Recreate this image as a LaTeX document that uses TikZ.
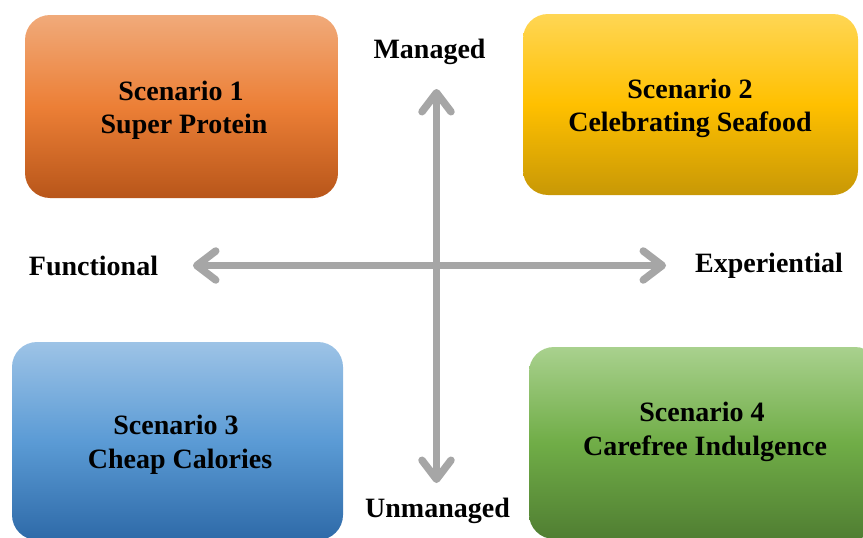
\documentclass[tikz,border=0pt]{standalone}
\usepackage{fontspec}
\setmainfont{Liberation Serif}
\usetikzlibrary{arrows.meta}

% gradient stops for the four scenario panels
\definecolor{orT}{RGB}{240,170,122}
\definecolor{orM}{RGB}{236,127,54}
\definecolor{orB}{RGB}{184,86,26}
\definecolor{yeT}{RGB}{255,214,84}
\definecolor{yeM}{RGB}{255,192,0}
\definecolor{yeB}{RGB}{200,152,6}
\definecolor{blT}{RGB}{157,195,230}
\definecolor{blM}{RGB}{91,155,213}
\definecolor{blB}{RGB}{46,106,168}
\definecolor{grT}{RGB}{169,209,142}
\definecolor{grM}{RGB}{112,173,71}
\definecolor{grB}{RGB}{80,126,50}
\definecolor{axisgray}{RGB}{166,166,166}

\begin{document}
\begin{tikzpicture}[x=1pt,y=-1pt,
  panel/.style={rectangle, rounded corners=25pt, inner sep=0pt, outer sep=0pt},
  txt/.style={anchor=base, inner sep=0pt, font=\fontsize{28}{33}\selectfont\bfseries},
  axisline/.style={draw=axisgray, line width=7.5pt,
    {Straight Barb[length=19pt, width=29pt, round]}-{Straight Barb[length=19pt, width=29pt, round]}}]
\useasboundingbox (0,0) rectangle (863,538);
\clip (0,0) rectangle (863,538);

% scenario panels
\node[panel, minimum width=313pt, minimum height=183pt,
  top color=orT, bottom color=orB, middle color=orM] (p1) at (181.5,106.5) {};
\node[panel, minimum width=335pt, minimum height=181pt,
  top color=yeT, bottom color=yeB, middle color=yeM] (p2) at (690.5,104.5) {};
\node[panel, minimum width=331pt, minimum height=198pt,
  top color=blT, bottom color=blB, middle color=blM] (p3) at (177.5,441) {};
\node[panel, minimum width=351pt, minimum height=192pt,
  top color=grT, bottom color=grB, middle color=grM] (p4) at (704.5,443) {};

% panel titles
\node[txt] (p1a) at (181,100) {Scenario 1};
\node[txt] (p1b) at (184,133) {Super Protein};
\node[txt] (p2a) at (690,98) {Scenario 2};
\node[txt] (p2b) at (690,131.5) {Celebrating Seafood};
\node[txt] (p3a) at (176,434) {Scenario 3};
\node[txt] (p3b) at (180,468) {Cheap Calories};
\node[txt] (p4a) at (702,421) {Scenario 4};
\node[txt] (p4b) at (705,455) {Carefree Indulgence};

% axes
\coordinate (top) at (436.5,89);
\coordinate (bottom) at (436.5,483);
\coordinate (left) at (193,265.5);
\coordinate (right) at (666,265.5);
\draw[axisline] (bottom) -- (top);
\draw[axisline] (left) -- (right);

% axis labels
\node[txt] (managed) at (429.5,58) {Managed};
\node[txt] (unmanaged) at (437.5,517) {Unmanaged};
\node[txt] (functional) at (93.5,275.5) {Functional};
\node[txt] (experiential) at (769,272) {Experiential};
\end{tikzpicture}
\end{document}
